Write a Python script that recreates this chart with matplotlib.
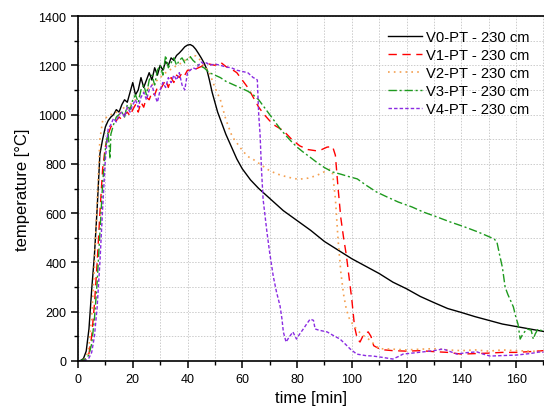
import matplotlib
matplotlib.use("Agg")
import matplotlib.pyplot as plt
from matplotlib.ticker import MultipleLocator

plt.rcParams['font.family'] = ['Liberation Sans', 'DejaVu Sans']

labels = ["V0-PT - 230 cm", "V1-PT - 230 cm", "V2-PT - 230 cm", "V3-PT - 230 cm", "V4-PT - 230 cm"]

t0 = [0,1,2,3,4,5,6,7,8,9,10,11,12,13,14,15,16,17,18,19,20,21,22,23,24,25,26,27,28,29,30,31,32,33,34,35,36,37,38,39,40,41,42,43,44,45,46,47,48,49,50,51,52,53,54,56,58,60,63,66,70,75,80,85,90,95,100,105,110,115,120,125,130,135,140,145,150,155,160,165,170]
T0 = [0,2,10,40,130,290,430,620,840,900,950,975,990,1000,1020,1010,1040,1060,1050,1090,1130,1080,1100,1150,1110,1140,1170,1140,1190,1160,1200,1180,1215,1200,1230,1220,1240,1250,1262,1275,1282,1284,1278,1265,1248,1230,1210,1185,1140,1090,1050,1010,980,950,920,870,820,780,735,700,660,610,570,530,485,450,415,385,355,320,293,262,237,213,197,180,165,150,140,130,120]

t1 = [0,1,2,3,4,5,6,7,8,9,10,11,12,13,14,15,16,17,18,19,20,21,22,23,24,25,26,27,28,29,30,31,32,33,34,35,36,37,38,39,40,42,44,46,48,50,52,54,56,58,60,62,64,66,68,70,72,75,78,81,84,87,89,91,93,94,95,96,97,98,99,100,101,102,103,104,105,106,107,108,110,112,115,120,125,130,135,140,145,150,155,160,165,170]
T1 = [0,0,2,8,30,100,230,400,600,780,870,920,950,965,975,990,980,1000,1010,995,1020,1040,1010,1050,1030,1070,1060,1090,1080,1110,1100,1120,1140,1110,1150,1130,1160,1150,1170,1160,1180,1180,1190,1200,1205,1200,1213,1195,1185,1170,1140,1110,1070,1030,1000,975,955,935,900,873,858,853,858,868,870,835,700,580,500,430,340,250,140,90,77,100,112,118,100,62,50,45,42,40,42,38,35,28,30,32,35,35,38,42]

t2 = [0,1,2,3,4,5,6,7,8,9,10,11,12,13,14,15,16,17,18,19,20,21,22,23,24,25,26,27,28,29,30,31,32,33,34,35,36,37,38,39,40,41,42,43,44,45,46,47,48,49,50,51,52,53,54,55,56,57,58,59,60,62,64,67,70,73,76,79,81,84,87,90,92,93,94,95,96,97,98,99,100,102,104,106,108,110,115,120,125,130,135,140,145,150,155,160,165,170]
T2 = [0,1,5,15,60,180,380,650,900,975,985,995,1000,1005,1010,1000,1020,1030,1020,1040,1050,1060,1070,1080,1090,1100,1110,1120,1130,1140,1150,1160,1170,1175,1185,1190,1200,1205,1210,1220,1225,1232,1240,1238,1230,1215,1200,1185,1170,1140,1110,1085,1060,1020,980,950,920,900,885,870,855,830,818,795,772,758,748,740,738,742,752,768,778,760,660,490,360,270,210,175,155,125,105,90,70,50,48,45,48,50,45,42,45,40,45,42,40,38]

t3 = [0,1,2,3,4,5,6,7,8,9,10,11,11.7,12,13,14,15,16,17,18,19,20,21,22,23,24,25,26,27,28,29,30,31,32,33,34,35,36,37,38,39,40,41,42,43,44,45,46,47,48,50,52,54,56,58,60,62,64,66,68,70,72,74,76,78,80,82,85,87,90,93,96,99,102,105,109,113,117,122,126,131,136,141,146,150,152,153,154,155,156,157,158,159,160,160.7,161.5,162.5,164,165.5,166.3,167,168,170]
T3 = [0,2,5,10,25,70,170,320,520,720,860,930,820,920,960,990,1000,1010,990,1040,1020,1060,1080,1050,1100,1120,1080,1140,1160,1120,1180,1200,1160,1240,1190,1210,1230,1200,1220,1230,1210,1226,1235,1220,1210,1200,1195,1190,1180,1170,1160,1150,1135,1125,1115,1105,1095,1080,1060,1030,1000,970,940,914,890,868,850,825,808,785,767,758,748,739,715,686,665,645,625,605,585,564,545,524,505,495,483,430,380,300,270,245,220,175,150,89,110,130,125,89,110,130,120]

t4 = [0,1,2,3,4,5,6,7,8,9,10,11,12,13,14,15,16,17,18,19,20,21,22,23,24,25,26,27,28,29,30,31,32,33,34,35,36,37,38,39,40,41,42,43,44,45,46,47,48,50,52,54,56,58,60,62,63,64,65,65.5,66,66.5,67,67.6,69,70,71.3,72.5,73.8,74.5,75,76,77,78.5,79.8,81,82.3,83.5,84.8,86,86.6,88,91,93,95.7,97.5,99.4,101.8,105,107.8,111,115,117,118.7,122,126,130,133.3,136,138.4,142,145.7,148,150.5,155,160,165,168.8,170]
T4 = [0,0,1,4,12,35,100,220,400,620,820,940,960,985,970,1000,1010,990,1030,1010,1040,1060,1030,1070,1090,1060,1100,1120,1080,1050,1100,1130,1110,1150,1130,1160,1140,1170,1120,1100,1170,1180,1190,1185,1200,1213,1205,1210,1200,1205,1200,1193,1190,1180,1175,1170,1160,1150,1145,1140,1000,920,780,657,524,440,345,280,223,170,118,77,95,118,89,110,130,150,170,165,130,125,118,105,89,70,49,28,22,20,15,8,18,28,32,37,42,49,38,28,34,37,28,20,22,24,30,37,35]

fig = plt.figure(figsize=(5.44, 4.14), dpi=100)
ax = fig.add_axes([78/544, 52/414, 466/544, 345/414])

ax.plot(t0, T0, color='black', lw=1.0, ls='-', label=labels[0])
ax.plot(t1, T1, color='#FF0000', lw=1.0, ls=(0, (6, 4)), label=labels[1])
ax.plot(t2, T2, color='#F4A050', lw=1.2, ls=(0, (1, 2.5)), label=labels[2])
ax.plot(t3, T3, color='#1E9A1E', lw=1.0, ls=(0, (6, 2, 1.5, 2)), label=labels[3])
ax.plot(t4, T4, color='#8A2BE2', lw=1.0, ls=(0, (2.5, 1.5)), label=labels[4])

ax.set_xlim(0, 170.2)
ax.set_ylim(0, 1400)
ax.xaxis.set_major_locator(MultipleLocator(20))
ax.xaxis.set_minor_locator(MultipleLocator(10))
ax.yaxis.set_major_locator(MultipleLocator(200))
ax.yaxis.set_minor_locator(MultipleLocator(100))
ax.grid(True, which='both', color='#cccccc', ls=(0, (1.5, 1.5)), lw=0.7)
ax.set_axisbelow(True)
ax.spines['right'].set_visible(False)
for s in ['left', 'bottom', 'top']:
    ax.spines[s].set_linewidth(1.2)
ax.tick_params(which='major', direction='out', length=5, width=1.1, labelsize=9)
ax.tick_params(which='minor', direction='out', length=3, width=1.0)
ax.tick_params(top=False, right=False)

ax.set_xlabel("time [min]", fontsize=12, labelpad=4)
ax.set_ylabel("temperature [°C]", fontsize=12, labelpad=6)

leg = ax.legend(loc='upper right', bbox_to_anchor=(543/544, 396/414), bbox_transform=fig.transFigure,
                frameon=False, fontsize=10.6, labelspacing=0.27, handlelength=2.3, handletextpad=0.3)

fig.savefig("out.png", dpi=100)
